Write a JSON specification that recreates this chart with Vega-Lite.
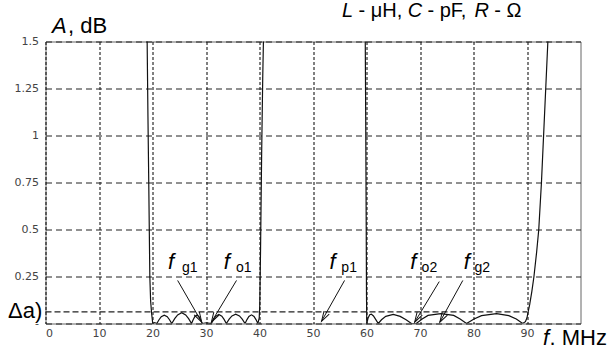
{
  "$schema": "https://vega.github.io/schema/vega-lite/v6.json",
  "width": 535,
  "height": 282,
  "autosize": {"type": "none"},
  "padding": {"left": 45.5, "top": 41.5, "right": 33.5, "bottom": 25.5},
  "background": "white",
  "config": {"view": {"stroke": "#666", "strokeWidth": 1}, "font": "Liberation Sans"},
  "datasets": {
    "curve": [
      {"f": 18.95, "A": 1.6}, {"f": 19.0, "A": 1.5}, {"f": 19.15, "A": 1.1}, {"f": 19.3, "A": 0.75}, {"f": 19.4, "A": 0.5}, {"f": 19.5, "A": 0.25}, {"f": 19.65, "A": 0.12}, {"f": 19.85, "A": 0.05}, {"f": 20.05, "A": 0}, {"f": 20.4, "A": 0.004}, {"f": 20.8, "A": 0},
      {"f": 21.22, "A": 0.02}, {"f": 21.64, "A": 0.036}, {"f": 22.2, "A": 0.044}, {"f": 22.76, "A": 0.036}, {"f": 23.18, "A": 0.02}, {"f": 23.6, "A": 0},
      {"f": 24.15, "A": 0.026}, {"f": 24.7, "A": 0.046}, {"f": 25.45, "A": 0.057}, {"f": 26.2, "A": 0.046}, {"f": 26.75, "A": 0.026}, {"f": 27.3, "A": 0},
      {"f": 27.6, "A": 0.02}, {"f": 27.9, "A": 0.036}, {"f": 28.3, "A": 0.045}, {"f": 28.7, "A": 0.036}, {"f": 29.0, "A": 0.02}, {"f": 29.3, "A": 0},
      {"f": 30.1, "A": 0.004}, {"f": 31.0, "A": 0},
      {"f": 31.42, "A": 0.022}, {"f": 31.84, "A": 0.039}, {"f": 32.4, "A": 0.048}, {"f": 32.96, "A": 0.039}, {"f": 33.38, "A": 0.022}, {"f": 33.8, "A": 0},
      {"f": 34.33, "A": 0.023}, {"f": 34.85, "A": 0.04}, {"f": 35.55, "A": 0.05}, {"f": 36.25, "A": 0.04}, {"f": 36.77, "A": 0.023}, {"f": 37.3, "A": 0},
      {"f": 37.66, "A": 0.021}, {"f": 38.02, "A": 0.037}, {"f": 38.5, "A": 0.046}, {"f": 38.98, "A": 0.037}, {"f": 39.34, "A": 0.021}, {"f": 39.7, "A": 0},
      {"f": 39.95, "A": 0.03}, {"f": 40.05, "A": 0.1}, {"f": 40.2, "A": 0.4}, {"f": 40.4, "A": 0.9}, {"f": 40.6, "A": 1.3}, {"f": 40.8, "A": 1.6},
      {"f": 59.75, "A": 1.6}, {"f": 59.85, "A": 1.1}, {"f": 59.95, "A": 0.5}, {"f": 60.0, "A": 0.15}, {"f": 60.05, "A": 0},
      {"f": 60.3, "A": 0.03}, {"f": 60.6, "A": 0.047}, {"f": 60.9, "A": 0.05}, {"f": 61.3, "A": 0.04}, {"f": 61.8, "A": 0.018}, {"f": 62.2, "A": 0},
      {"f": 62.8, "A": 0.02}, {"f": 63.6, "A": 0.038}, {"f": 65.0, "A": 0.048}, {"f": 66.3, "A": 0.038}, {"f": 67.4, "A": 0.02}, {"f": 68.4, "A": 0},
      {"f": 69.3, "A": 0}, {"f": 70.4, "A": 0.024}, {"f": 71.5, "A": 0.043}, {"f": 73.9, "A": 0.053}, {"f": 76.3, "A": 0.043}, {"f": 77.5, "A": 0.024}, {"f": 78.7, "A": 0},
      {"f": 80.1, "A": 0.024}, {"f": 81.5, "A": 0.042}, {"f": 84.3, "A": 0.052}, {"f": 86.6, "A": 0.042}, {"f": 88.0, "A": 0.024}, {"f": 89.2, "A": 0},
      {"f": 89.7, "A": 0.01}, {"f": 90.0, "A": 0.03}, {"f": 90.2, "A": 0.06}, {"f": 90.5, "A": 0.1}, {"f": 90.9, "A": 0.17}, {"f": 91.3, "A": 0.25}, {"f": 91.8, "A": 0.38}, {"f": 92.2, "A": 0.5}, {"f": 92.7, "A": 0.75}, {"f": 93.1, "A": 1.0}, {"f": 93.5, "A": 1.25}, {"f": 93.9, "A": 1.5}, {"f": 94.0, "A": 1.6}
    ],
    "arrows": [
      {"lab": "g1", "x0": 24.7, "y0": 0.229, "x1": 29.2, "y1": 0.007},
      {"lab": "o1", "x0": 35.7, "y0": 0.229, "x1": 31.0, "y1": 0.007},
      {"lab": "p1", "x0": 55.9, "y0": 0.229, "x1": 51.6, "y1": 0.012},
      {"lab": "o2", "x0": 73.6, "y0": 0.223, "x1": 69.0, "y1": 0.007},
      {"lab": "g2", "x0": 78.0, "y0": 0.229, "x1": 73.7, "y1": 0.007}
    ],
    "flabels": [
      {"sub": "g1", "fx": 22.9, "sx": 25.5, "fy": 0.289, "sy": 0.275},
      {"sub": "o1", "fx": 33.3, "sx": 35.6, "fy": 0.289, "sy": 0.275},
      {"sub": "p1", "fx": 53.1, "sx": 55.3, "fy": 0.289, "sy": 0.275},
      {"sub": "o2", "fx": 68.2, "sx": 70.3, "fy": 0.289, "sy": 0.275},
      {"sub": "g2", "fx": 78.2, "sx": 80.2, "fy": 0.289, "sy": 0.275}
    ],
    "bigItalic": [
      {"t": "A", "x": 1.2, "y": 1.544},
      {"t": "f", "x": 93.0, "y": -0.114}
    ],
    "bigRegular": [
      {"t": ", dB", "x": 4.2, "y": 1.544},
      {"t": "Δa)", "x": -7.0, "y": 0.028},
      {"t": ". MHz", "x": 94.2, "y": -0.114}
    ],
    "titleItalic": [
      {"t": "L", "x": 55.4, "y": 1.632},
      {"t": "C", "x": 67.7, "y": 1.632},
      {"t": "R", "x": 80.2, "y": 1.632}
    ],
    "titleRegular": [
      {"t": "- μH,", "x": 58.5, "y": 1.632},
      {"t": "- pF,", "x": 71.4, "y": 1.632},
      {"t": "- Ω", "x": 83.9, "y": 1.632}
    ],
    "delta": [{"x": 0, "x2": 90, "y": 0.062}]
  },
  "layer": [
    {
      "data": {"name": "curve"},
      "mark": {"type": "line", "clip": true, "color": "#111", "strokeWidth": 1.2},
      "encoding": {
        "x": {
          "field": "f", "type": "quantitative",
          "scale": {"domain": [0, 100], "nice": false, "zero": false},
          "axis": {
            "values": [0, 10, 20, 30, 40, 50, 60, 70, 80, 90],
            "title": null, "domain": false, "ticks": false,
            "grid": true, "gridDash": [3, 2], "gridColor": "#000", "gridOpacity": 1,
            "labelFont": "DejaVu Sans", "labelFontSize": 11, "labelColor": "#444", "labelPadding": 4
          }
        },
        "y": {
          "field": "A", "type": "quantitative",
          "scale": {"domain": [0, 1.5], "nice": false, "zero": false},
          "axis": {
            "values": [0, 0.25, 0.5, 0.75, 1, 1.25, 1.5],
            "labelExpr": "datum.value == 0 ? '-' : toString(datum.value)",
            "title": null, "domain": false, "ticks": false,
            "grid": true, "gridDash": [6, 4], "gridColor": "#222", "gridOpacity": 1,
            "labelFont": "DejaVu Sans", "labelFontSize": 11, "labelColor": "#444", "labelPadding": 7
          }
        }
      }
    },
    {
      "data": {"name": "delta"},
      "mark": {"type": "rule", "color": "#222", "strokeWidth": 1.2, "strokeDash": [6, 3]},
      "encoding": {
        "x": {"field": "x", "type": "quantitative"},
        "x2": {"field": "x2"},
        "y": {"field": "y", "type": "quantitative"}
      }
    },
    {
      "data": {"name": "arrows"},
      "mark": {"type": "rule", "color": "#111", "strokeWidth": 1},
      "encoding": {
        "x": {"field": "x0", "type": "quantitative"},
        "y": {"field": "y0", "type": "quantitative"},
        "x2": {"field": "x1"},
        "y2": {"field": "y1"}
      }
    },
    {
      "data": {"name": "arrows"},
      "transform": [{"filter": "datum.lab == 'g1'"}],
      "mark": {"type": "point", "shape": "M-0.6,2L0,0L0.6,2", "filled": false, "size": 100, "stroke": "#111", "strokeWidth": 1, "opacity": 1, "angle": 150.4},
      "encoding": {
        "x": {"field": "x1", "type": "quantitative"},
        "y": {"field": "y1", "type": "quantitative"}
      }
    },
    {
      "data": {"name": "arrows"},
      "transform": [{"filter": "datum.lab != 'g1'"}],
      "mark": {"type": "point", "shape": "M-0.6,2L0,0L0.6,2", "filled": false, "size": 100, "stroke": "#111", "strokeWidth": 1, "opacity": 1, "angle": 210.3},
      "encoding": {
        "x": {"field": "x1", "type": "quantitative"},
        "y": {"field": "y1", "type": "quantitative"}
      }
    },
    {
      "data": {"name": "flabels"},
      "mark": {"type": "text", "font": "Liberation Sans", "fontStyle": "italic", "fontSize": 22, "align": "left", "baseline": "alphabetic", "color": "black"},
      "encoding": {
        "x": {"field": "fx", "type": "quantitative"},
        "y": {"field": "fy", "type": "quantitative"},
        "text": {"value": "f"}
      }
    },
    {
      "data": {"name": "flabels"},
      "mark": {"type": "text", "font": "Liberation Sans", "fontSize": 14, "align": "left", "baseline": "alphabetic", "color": "black"},
      "encoding": {
        "x": {"field": "sx", "type": "quantitative"},
        "y": {"field": "sy", "type": "quantitative"},
        "text": {"field": "sub"}
      }
    },
    {
      "data": {"name": "bigItalic"},
      "mark": {"type": "text", "font": "Liberation Sans", "fontStyle": "italic", "fontSize": 22, "align": "left", "baseline": "alphabetic", "color": "black"},
      "encoding": {
        "x": {"field": "x", "type": "quantitative"},
        "y": {"field": "y", "type": "quantitative"},
        "text": {"field": "t"}
      }
    },
    {
      "data": {"name": "bigRegular"},
      "mark": {"type": "text", "font": "Liberation Sans", "fontSize": 22, "align": "left", "baseline": "alphabetic", "color": "black"},
      "encoding": {
        "x": {"field": "x", "type": "quantitative"},
        "y": {"field": "y", "type": "quantitative"},
        "text": {"field": "t"}
      }
    },
    {
      "data": {"name": "titleItalic"},
      "mark": {"type": "text", "font": "Liberation Sans", "fontStyle": "italic", "fontSize": 20, "align": "left", "baseline": "alphabetic", "color": "black"},
      "encoding": {
        "x": {"field": "x", "type": "quantitative"},
        "y": {"field": "y", "type": "quantitative"},
        "text": {"field": "t"}
      }
    },
    {
      "data": {"name": "titleRegular"},
      "mark": {"type": "text", "font": "Liberation Sans", "fontSize": 20, "align": "left", "baseline": "alphabetic", "color": "black"},
      "encoding": {
        "x": {"field": "x", "type": "quantitative"},
        "y": {"field": "y", "type": "quantitative"},
        "text": {"field": "t"}
      }
    }
  ]
}
